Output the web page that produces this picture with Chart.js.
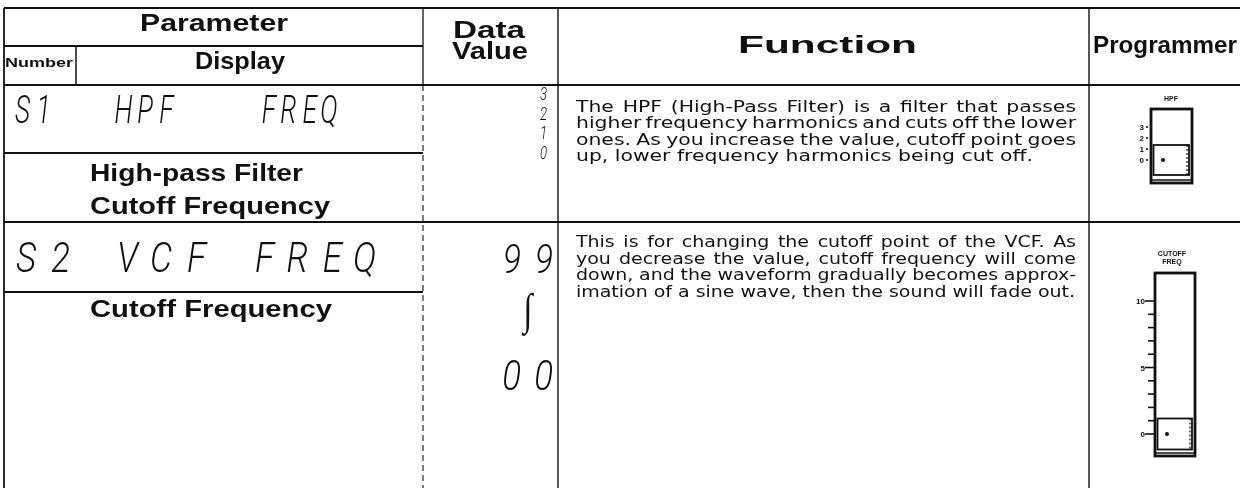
<!DOCTYPE html>
<html lang="en">
<head>
<meta charset="UTF-8">
<title>Parameter table - HPF / VCF cutoff</title>
<script src="https://cdn.jsdelivr.net/npm/chart.js"></script>
<style>
    html, body { margin: 0; padding: 0; background: #fff; }
    #wrap { position: relative; width: 1240px; height: 488px; }
</style>
</head>
<body>
<div id="wrap"><canvas id="sheet"></canvas></div>
<script>
// ---- table content ----
const headTop = ['Parameter', 'Function', 'Programmer'];
const headData = ['Data', 'Value'];
const headSub = ['Number', 'Display'];
const displayCodes = ['S1   HPF    FREQ', 'S2 VCF FREQ'];
const paramNames = [['High-pass Filter', 'Cutoff Frequency'], ['Cutoff Frequency']];
const hpfValues = ['3', '2', '1', '0'];
const vcfValues = ['99', '00'];
const rangeMark = '∫';
const functionRow1 = [
    'The HPF (High-Pass Filter) is a filter that passes',
    'higher frequency harmonics and cuts off the lower',
    'ones. As you increase the value, cutoff point goes',
    'up, lower frequency harmonics being cut off.'
];
const functionRow2 = [
    'This is for changing the cutoff point of the VCF. As',
    'you decrease the value, cutoff frequency will come',
    'down, and the waveform gradually becomes approx-',
    'imation of a sine wave, then the sound will fade out.'
];
const sliderNames = [['HPF'], ['CUTOFF', 'FREQ']];
const hpfTicks = ['3', '2', '1', '0'];
const cutoffTicks = ['10', '', '', '', '', '5', '', '', '', '', '0'];
const knobAt = [0, 0]; // both knobs sit at the bottom tick

// ---- layout (in sheet units, 1 unit = 1px) ----
const COL = { left: 4, number: 76, param: 423, data: 558, func: 1089, right: 1240 };
const ROW = { top: 8, headMid: 46, head: 85, r1mid: 153, r1: 222, r2mid: 292, bottom: 488 };
const INK = '#111';
const BOLD = 'bold 24px "Liberation Sans"';
const BODY = '16px "DejaVu Sans"';

const tablePlugin = {
    id: 'tableSheet',
    afterDraw(chart) {
        const ctx = chart.ctx;
        const X = v => chart.scales.x.getPixelForValue(v);
        const Y = v => chart.scales.y.getPixelForValue(v);
        ctx.save();
        ctx.fillStyle = INK;
        ctx.strokeStyle = INK;
        ctx.textBaseline = 'alphabetic';
        ctx.textAlign = 'left';

        function hline(y, x1, x2, w) {
            ctx.lineWidth = w || 2;
            ctx.setLineDash([]);
            ctx.beginPath(); ctx.moveTo(X(x1), Y(y)); ctx.lineTo(X(x2), Y(y)); ctx.stroke();
        }
        function vline(x, y1, y2, w, dash) {
            ctx.lineWidth = w || 1.5;
            ctx.setLineDash(dash || []);
            ctx.beginPath(); ctx.moveTo(X(x), Y(y1)); ctx.lineTo(X(x), Y(y2)); ctx.stroke();
            ctx.setLineDash([]);
        }
        // text squeezed/stretched to a given width
        function fitText(str, left, base, width, font) {
            ctx.font = font;
            const w = ctx.measureText(str).width;
            ctx.save();
            ctx.translate(X(left), Y(base));
            ctx.scale((X(left + width) - X(left)) / w, 1);
            ctx.fillText(str, 0, 0);
            ctx.restore();
        }
        // justified paragraph, last line left as is
        function paragraph(lines, left, base, step, width, lastWidth, font) {
            ctx.font = font;
            const s = lastWidth / ctx.measureText(lines[lines.length - 1]).width;
            lines.forEach((line, i) => {
                const b = base + i * step;
                if (i === lines.length - 1) { fitText(line, left, b, lastWidth, font); return; }
                const words = line.split(' ');
                const ws = words.map(w => ctx.measureText(w).width * s);
                const total = ws.reduce((a, c) => a + c, 0);
                const gap = (width - total) / (words.length - 1);
                if (gap < ctx.measureText(' ').width * s * 0.6) { fitText(line, left, b, width, font); return; }
                let x = left;
                words.forEach((w, k) => {
                    ctx.save();
                    ctx.translate(X(x), Y(b));
                    ctx.scale(s, 1);
                    ctx.fillText(w, 0, 0);
                    ctx.restore();
                    x += ws[k] + gap;
                });
            });
        }
        // segment-display style lettering on a fixed character grid
        function segText(str, left, pitch, cw, top, h) {
            const size = h / 0.711;
            ctx.font = 'italic 300 ' + size + 'px Roboto';
            const s = cw / ctx.measureText('H').width;
            [...str].forEach((ch, i) => {
                if (ch === ' ') return;
                const w = ctx.measureText(ch).width * s;
                ctx.save();
                ctx.translate(X(left + i * pitch + cw - w), Y(top + h));
                ctx.scale(s, 1);
                ctx.fillText(ch, 0, 0);
                ctx.restore();
            });
        }
        function slider(o) {
            ctx.font = 'bold 7px "Liberation Sans"';
            ctx.textAlign = 'center';
            o.names.forEach((n, i) => ctx.fillText(n, X(o.cx), Y(o.nameY + i * 8)));
            const n = o.ticks.length;
            const step = (o.tickBottom - o.tickTop) / (n - 1);
            ctx.textAlign = 'right';
            ctx.font = 'bold 8px "Liberation Sans"';
            o.ticks.forEach((t, i) => {
                const y = o.tickTop + i * step;
                if (o.dots) {
                    ctx.beginPath(); ctx.arc(X(o.boxL - 4), Y(y), 1.1, 0, Math.PI * 2); ctx.fill();
                    ctx.fillText(t, X(o.boxL - 7), Y(y + 3));
                } else {
                    hline(y, t ? o.boxL - 10 : o.boxL - 7, o.boxL, 1.6);
                    if (t) ctx.fillText(t, X(o.boxL - 10), Y(y + 3));
                }
            });
            ctx.textAlign = 'left';
            ctx.lineWidth = 2.8;
            ctx.strokeRect(X(o.boxL), Y(o.boxT), X(o.boxR) - X(o.boxL), Y(o.boxB) - Y(o.boxT));
            hline(o.boxB - 3, o.boxL, o.boxR, 1.5);
            const ky = o.tickBottom - o.knob * step;
            ctx.lineWidth = 1.8;
            ctx.strokeRect(X(o.boxL + 2.5), Y(ky - o.knobH / 2), X(o.boxR - 3) - X(o.boxL + 2.5), Y(ky + o.knobH / 2) - Y(ky - o.knobH / 2));
            vline(o.boxR - 5, ky - o.knobH / 2, ky + o.knobH / 2, 1.2, [2, 2]);
            ctx.beginPath(); ctx.arc(X(o.boxL + 12), Y(ky), 2, 0, Math.PI * 2); ctx.fill();
        }

        // ---- rules ----
        hline(ROW.top, COL.left, COL.right, 2);
        hline(ROW.headMid, COL.left, COL.param, 2);
        hline(ROW.head, COL.left, COL.right, 2.2);
        hline(ROW.r1mid, COL.left, COL.param, 2);
        hline(ROW.r1, COL.left, COL.right, 2.2);
        hline(ROW.r2mid, COL.left, COL.param, 2);
        vline(COL.left, ROW.top, ROW.bottom, 1.8);
        vline(COL.number, ROW.headMid, ROW.head, 1.5);
        vline(COL.param, ROW.top, ROW.head, 1.3);
        vline(COL.param, ROW.head, ROW.bottom, 1.1, [6, 4]);
        vline(COL.data, ROW.top, ROW.bottom, 1.4);
        vline(COL.func, ROW.top, ROW.bottom, 1.4);

        // ---- headings ----
        fitText(headTop[0], 140, 31, 148, BOLD);
        fitText(headSub[0], 5, 67, 68, 'bold 13px "Liberation Sans"');
        fitText(headSub[1], 195, 69, 90, BOLD);
        fitText(headData[0], 453, 38, 72, BOLD);
        fitText(headData[1], 452, 59, 76, BOLD);
        fitText(headTop[1], 738, 53, 179, BOLD);
        fitText(headTop[2], 1093, 53, 144, BOLD);

        // ---- parameter column ----
        segText(displayCodes[0], 12, 20.5, 18, 95, 28);
        segText(displayCodes[1], 12, 34, 24, 242, 30);
        fitText(paramNames[0][0], 90, 181, 213, BOLD);
        fitText(paramNames[0][1], 90, 214, 240, BOLD);
        fitText(paramNames[1][0], 90, 317, 242, BOLD);

        // ---- data values ----
        hpfValues.forEach((v, i) => segText(v, 538, 9, 9, 87 + i * 19.5, 13));
        segText(vcfValues[0], 498, 32, 23, 244, 29);
        segText(vcfValues[1], 497, 32, 24, 360, 30);
        ctx.font = '300 44px "DejaVu Sans"';
        ctx.textAlign = 'center';
        ctx.save();
        ctx.translate(X(528), Y(324));
        ctx.scale(0.75, 1);
        ctx.fillText(rangeMark, 0, 0);
        ctx.restore();
        ctx.textAlign = 'left';

        // ---- function text ----
        paragraph(functionRow1, 576, 112, 16.3, 500, 457, BODY);
        paragraph(functionRow2, 576, 247, 16.7, 500, 499, BODY);

        // ---- programmer sketches ----
        slider({ names: sliderNames[0], cx: 1171, nameY: 101, ticks: hpfTicks, dots: true,
                 tickTop: 127, tickBottom: 160, boxL: 1151, boxR: 1192, boxT: 109, boxB: 183,
                 knob: knobAt[0], knobH: 30 });
        slider({ names: sliderNames[1], cx: 1172, nameY: 256, ticks: cutoffTicks, dots: false,
                 tickTop: 301, tickBottom: 434, boxL: 1155, boxR: 1195, boxT: 273, boxB: 456,
                 knob: knobAt[1], knobH: 31 });
        ctx.restore();
    }
};

new Chart(document.getElementById('sheet'), {
    type: 'scatter',
    data: { datasets: [] },
    options: {
        responsive: true,
        maintainAspectRatio: false,
        animation: false,
        layout: { padding: 0 },
        plugins: { legend: { display: false }, tooltip: { enabled: false } },
        scales: {
            x: { type: 'linear', min: 0, max: 1240, display: false },
            y: { type: 'linear', min: 0, max: 488, reverse: true, display: false }
        }
    },
    plugins: [tablePlugin]
});
</script>
</body>
</html>
